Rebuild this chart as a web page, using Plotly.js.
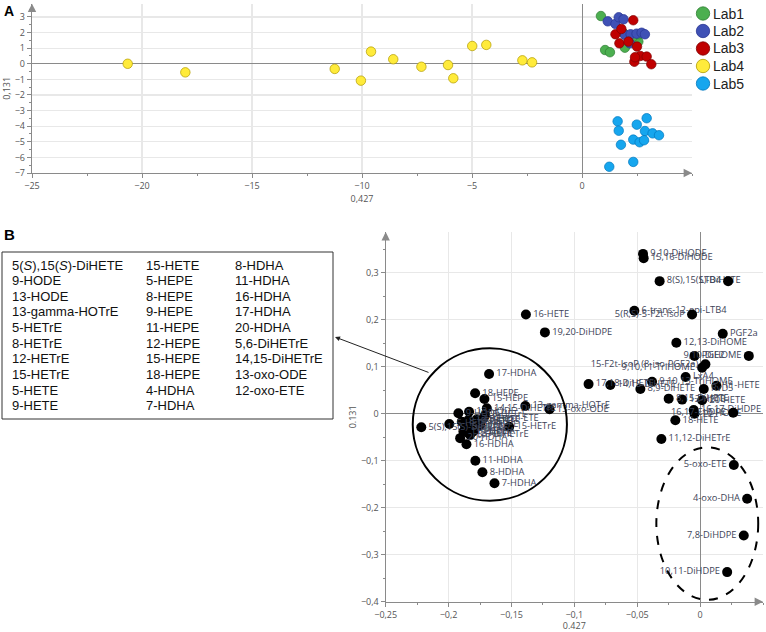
<!DOCTYPE html>
<html>
<head>
<meta charset="utf-8">
<script src="https://cdn.plot.ly/plotly-3.0.1.min.js"></script>
<style>html,body{margin:0;padding:0;background:#fff;}#chart{width:766px;height:632px;}</style>
</head>
<body>
<div id="chart"></div>
<script>
// ---------- Panel A: scores ----------
const labNames = ['Lab1', 'Lab2', 'Lab3', 'Lab4', 'Lab5'];
const lab1X = [0.86, 1.05, 1.27, 1.95, 2.56, 1.90, 2.30, 2.60];
const lab1Y = [3.06, 0.88, 0.74, 1.03, 1.42, 1.95, 1.70, 1.90];
const lab2X = [1.17, 1.52, 1.67, 1.89, 1.95, 2.21, 2.48, 2.71, 2.86, 2.18];
const lab2Y = [2.72, 2.55, 2.98, 2.85, 1.85, 1.89, 1.93, 1.99, 1.89, 1.31];
const lab3X = [2.33, 1.52, 1.79, 1.70, 2.11, 2.50, 2.38, 2.65, 2.94, 3.15, 2.41];
const lab3Y = [2.79, 1.89, 2.23, 1.31, 1.42, 1.10, 0.13, 0.50, 0.46, -0.03, 0.42];
const lab4X = [-20.65, -18.03, -11.24, -10.05, -9.59, -8.58, -7.30, -6.09, -5.85, -4.99, -4.35, -2.71, -2.27];
const lab4Y = [0.00, -0.55, -0.33, -1.08, 0.78, 0.29, -0.19, -0.08, -0.93, 1.14, 1.21, 0.22, 0.09];
const lab5X = [1.62, 1.67, 1.77, 1.24, 2.33, 2.49, 2.94, 2.86, 3.21, 3.50, 2.33, 2.62, 2.82];
const lab5Y = [-3.69, -4.29, -5.19, -6.60, -6.29, -3.90, -3.49, -4.31, -4.46, -4.58, -4.86, -5.03, -4.90];
const aXTicks = [-25, -20, -15, -10, -5, 0];
const aYTicks = [-7, -6, -5, -4, -3, -2, -1, 0, 1, 2, 3];

// ---------- Panel B: loadings ----------
// labels drawn to the right of the point
const rightNames = ['9,10-DiHODE', '15,16-DiHODE', '8(S),15(S)-DiHETE', '6-trans-12-epi-LTB4', '16-HETE',
  '19,20-DiHDPE', 'PGF2a', '12,13-DiHOME', 'PGE2', 'LxA4', '17,18-DiHETE', '14,15-DiHETE',
  '9,10,13-TriHOME', '8,9-DiHETE', 'RvD5', '11-HETE', '8,15-DiHETE', '12-HETE', '20-HETE',
  '16,17-DiHDPE', '10-HODE', '18-HETE', '11,12-DiHETrE',
  '17-HDHA', '18-HEPE', '15-HEPE', '14,15-DiHETrE', '13-gamma-HOTrE', '13-oxo-ODE',
  '5(S),15(S)-DiHETE', '5-HETE', '11-HDHA', '8-HDHA', '7-HDHA', '16-HDHA', '15-HETrE',
  '9-HODE', '13-HODE', '5-HETrE', '8-HETrE', '12-HETrE', '9-HETE', '15-HETE', '5-HEPE',
  '8-HEPE', '9-HEPE', '11-HEPE', '12-HEPE', '4-HDHA', '20-HDHA', '5,6-DiHETrE', '12-oxo-ETE'];
const rightX = [-0.0454, -0.0449, -0.0322, -0.0523, -0.1385,
  -0.1234, 0.0180, -0.0189, -0.0045, -0.0115, -0.0887, -0.0714,
  -0.0382, -0.0475, 0.0029, 0.0130, -0.0250, -0.0143, 0.0016,
  -0.0051, -0.0045, -0.0197, -0.0308,
  -0.1678, -0.1789, -0.1715, -0.1696, -0.1390, -0.1197,
  -0.2217, -0.1994, -0.1787, -0.1731, -0.1635, -0.1858, -0.1518,
  -0.1922, -0.1837, -0.1709, -0.1895, -0.1842, -0.1803, -0.1775, -0.1869,
  -0.1829, -0.1749, -0.1882, -0.1842, -0.1803, -0.1908, -0.1829, -0.1723];
const rightY = [0.340, 0.331, 0.282, 0.219, 0.211,
  0.173, 0.170, 0.151, 0.123, 0.078, 0.063, 0.061,
  0.068, 0.0525, 0.0525, 0.0596, 0.032, 0.030, 0.0285,
  0.0079, 0.000, -0.014, -0.054,
  0.0845, 0.0434, 0.0313, 0.0115, 0.0164, 0.0094,
  -0.029, -0.022, -0.100, -0.1247, -0.148, -0.065, -0.0277,
  0.0008, 0.0043, -0.0028, -0.017, -0.0134, -0.017, -0.012, -0.0277,
  -0.031, -0.024, -0.038, -0.0417, -0.038, -0.052, -0.045, -0.0098];
// labels drawn to the left of the point
const leftNames = ['LTB4', '5(R,S)-5-F2t-IsoP', '9,10-DiHOME', '15-F2t-IsoP (8-iso-PGF2a)', '9,10,11-TriHOME',
  '5-oxo-ETE', '4-oxo-DHA', '7,8-DiHDPE', '10,11-DiHDPE', '16,17-EpDPE'];
const leftX = [0.0223, -0.0064, 0.0387, 0.0042, 0.0016, 0.0268, 0.0374, 0.0347, 0.0215, 0.0263];
const leftY = [0.282, 0.211, 0.123, 0.105, 0.098, -0.109, -0.181, -0.259, -0.337, 0.002];
const bXTicks = [-0.25, -0.2, -0.15, -0.1, -0.05, 0];
const bYTicks = [-0.4, -0.3, -0.2, -0.1, 0, 0.1, 0.2, 0.3];

// box listing the metabolites inside the circle
const boxCol1 = ['5(<i>S</i>),15(<i>S</i>)-DiHETE', '9-HODE', '13-HODE', '13-gamma-HOTrE', '5-HETrE', '8-HETrE', '12-HETrE', '15-HETrE', '5-HETE', '9-HETE'];
const boxCol2 = ['15-HETE', '5-HEPE', '8-HEPE', '9-HEPE', '11-HEPE', '12-HEPE', '15-HEPE', '18-HEPE', '4-HDHA', '7-HDHA'];
const boxCol3 = ['8-HDHA', '11-HDHA', '16-HDHA', '17-HDHA', '20-HDHA', '5,6-DiHETrE', '14,15-DiHETrE', '13-oxo-ODE', '12-oxo-ETE'];

// ---------- build ----------
const W = 766, H = 632;
const px = v => v / W;
const py = v => 1 - v / H;

const labColors = ['#4caf50', '#3f51b5', '#c00000', '#ffeb3b', '#16a6ee'];
const labLines  = ['#2e7d32', '#283593', '#7f0000', '#b09a00', '#0277bd'];
const labX = [lab1X, lab2X, lab3X, lab4X, lab5X];
const labY = [lab1Y, lab2Y, lab3Y, lab4Y, lab5Y];

const traces = labNames.map((n, i) => ({
  type: 'scatter', mode: 'markers', name: n, showlegend: false,
  x: labX[i], y: labY[i], xaxis: 'x', yaxis: 'y',
  marker: {size: 9.5, color: labColors[i], line: {color: labLines[i], width: 0.7}},
  hoverinfo: 'x+y+name'
}));

const labelFont = {family: 'Open Sans, sans-serif', size: 9.3, color: '#3d4357'};
traces.push({
  type: 'scatter', mode: 'markers+text', showlegend: false,
  x: rightX, y: rightY, text: rightNames, textposition: 'middle right',
  xaxis: 'x2', yaxis: 'y2', cliponaxis: false,
  marker: {size: 10, color: '#000'}, textfont: labelFont
});
traces.push({
  type: 'scatter', mode: 'markers+text', showlegend: false,
  x: leftX, y: leftY, text: leftNames, textposition: 'middle left',
  xaxis: 'x2', yaxis: 'y2', cliponaxis: false,
  marker: {size: 10, color: '#000'}, textfont: labelFont
});

const tickFont = {family: 'Open Sans, sans-serif', size: 9, color: '#555'};
const titleFont = {family: 'Open Sans, sans-serif', size: 9, color: '#555'};
const axisCommon = {
  showline: true, linecolor: '#8a8a8a', linewidth: 1.2,
  ticks: 'outside', ticklen: 4, tickcolor: '#8a8a8a',
  showgrid: true, gridcolor: '#e8e8e8', gridwidth: 1.3,
  zeroline: true, zerolinecolor: '#8a8a8a', zerolinewidth: 1,
  tickfont: tickFont, automargin: false, fixedrange: true
};

const annotations = [];
const shapes = [];
// axis arrowheads
function arrow(xref, yref, x, y, ax, ay) {
  annotations.push({xref: xref, yref: yref, x: x, y: y, ax: ax, ay: ay, axref: 'pixel', ayref: 'pixel',
    showarrow: true, arrowhead: 2, arrowsize: 1.4, arrowwidth: 1.2, arrowcolor: '#8a8a8a', text: ''});
}
arrow('x', 'y', 5, -7, -8, 0);
arrow('x', 'y', -25, 3.85, 0, 8);
arrow('x2', 'y2', 0.05, -0.4, -8, 0);
arrow('x2', 'y2', -0.25, 0.3866, 0, 8);

// legend of panel A (drawn by hand for tight spacing)
labNames.forEach((n, i) => {
  const cy = 13.5 + i * 17.5;
  shapes.push({type: 'circle', xref: 'paper', yref: 'paper',
    x0: px(696.3), x1: px(709.7), y0: py(cy + 6.7), y1: py(cy - 6.7),
    fillcolor: labColors[i], line: {color: labLines[i], width: 0.8}});
  annotations.push({xref: 'paper', yref: 'paper', x: px(711), y: py(cy), xanchor: 'left', yanchor: 'middle',
    showarrow: false, text: n, font: {family: 'Liberation Sans, Arial, sans-serif', size: 14, color: '#222'}});
});

// panel letters
annotations.push({xref: 'paper', yref: 'paper', x: px(2), y: py(1), xanchor: 'left', yanchor: 'top', showarrow: false,
  text: '<b>A</b>', font: {family: 'Liberation Sans, Arial, sans-serif', size: 14, color: '#000'}});
annotations.push({xref: 'paper', yref: 'paper', x: px(2), y: py(224), xanchor: 'left', yanchor: 'top', showarrow: false,
  text: '<b>B</b>', font: {family: 'Liberation Sans, Arial, sans-serif', size: 15, color: '#000'}});

// box text
const boxFont = {family: 'Liberation Sans, Arial, sans-serif', size: 13, color: '#111'};
[[boxCol1, 10], [boxCol2, 144], [boxCol3, 233]].forEach(([col, x0]) => {
  col.forEach((t, i) => {
    annotations.push({xref: 'paper', yref: 'paper', x: px(x0), y: py(265 + i * 15.63), xanchor: 'left', yanchor: 'middle',
      showarrow: false, text: t, font: boxFont});
  });
});
// pointer arrow from circle to box
annotations.push({xref: 'paper', yref: 'paper', x: px(335), y: py(337), ax: 95, ay: 36, axref: 'pixel', ayref: 'pixel',
  showarrow: true, arrowhead: 2, arrowsize: 1, arrowwidth: 1, arrowcolor: '#222', text: ''});

shapes.push(
  {type: 'rect', xref: 'paper', yref: 'paper', x0: px(2), x1: px(333), y0: py(252), y1: py(419),
    line: {color: '#333', width: 1}},
  {type: 'circle', xref: 'x2', yref: 'y2', x0: -0.2285, x1: -0.1059, y0: -0.185, y1: 0.139,
    line: {color: '#000', width: 2}},
  {type: 'circle', xref: 'x2', yref: 'y2', x0: -0.0348, x1: 0.0462, y0: -0.396, y1: -0.0715,
    line: {color: '#000', width: 2, dash: 'dash'}}
);

const layout = {
  width: W, height: H, margin: {l: 0, r: 0, t: 0, b: 0},
  paper_bgcolor: '#fff', plot_bgcolor: '#fff',
  separators: ',.',
  font: {family: 'Open Sans, sans-serif'},
  showlegend: false,
  xaxis: Object.assign({}, axisCommon, {
    domain: [px(32), px(692)], range: [-25, 5], tickvals: aXTicks,
    minor: {ticks: 'outside', ticklen: 2, tickcolor: '#8a8a8a', dtick: 2.5, showgrid: false},
    anchor: 'y', title: {text: '0,427', font: titleFont, standoff: 4}
  }),
  yaxis: Object.assign({}, axisCommon, {
    domain: [py(173), py(3.7)], range: [-7, 3.85], tickvals: aYTicks,
    minor: {ticks: 'outside', ticklen: 2, tickcolor: '#8a8a8a', dtick: 0.5, showgrid: false},
    anchor: 'x', title: {text: '0,131', font: titleFont, standoff: 4}
  }),
  xaxis2: Object.assign({}, axisCommon, {
    domain: [px(385.7), px(763)], range: [-0.25, 0.05], tickvals: bXTicks,
    minor: {ticks: 'outside', ticklen: 2, tickcolor: '#8a8a8a', dtick: 0.025, showgrid: false},
    anchor: 'y2', title: {text: '0.427', font: titleFont, standoff: 4}
  }),
  yaxis2: Object.assign({}, axisCommon, {
    domain: [py(601.7), py(232)], range: [-0.4, 0.3866], tickvals: bYTicks,
    minor: {ticks: 'outside', ticklen: 2, tickcolor: '#8a8a8a', dtick: 0.05, showgrid: false},
    anchor: 'x2', title: {text: '0.131', font: titleFont, standoff: 2}
  }),
  annotations: annotations,
  shapes: shapes
};

Plotly.newPlot('chart', traces, layout, {displayModeBar: false, staticPlot: true});
</script>
</body>
</html>
